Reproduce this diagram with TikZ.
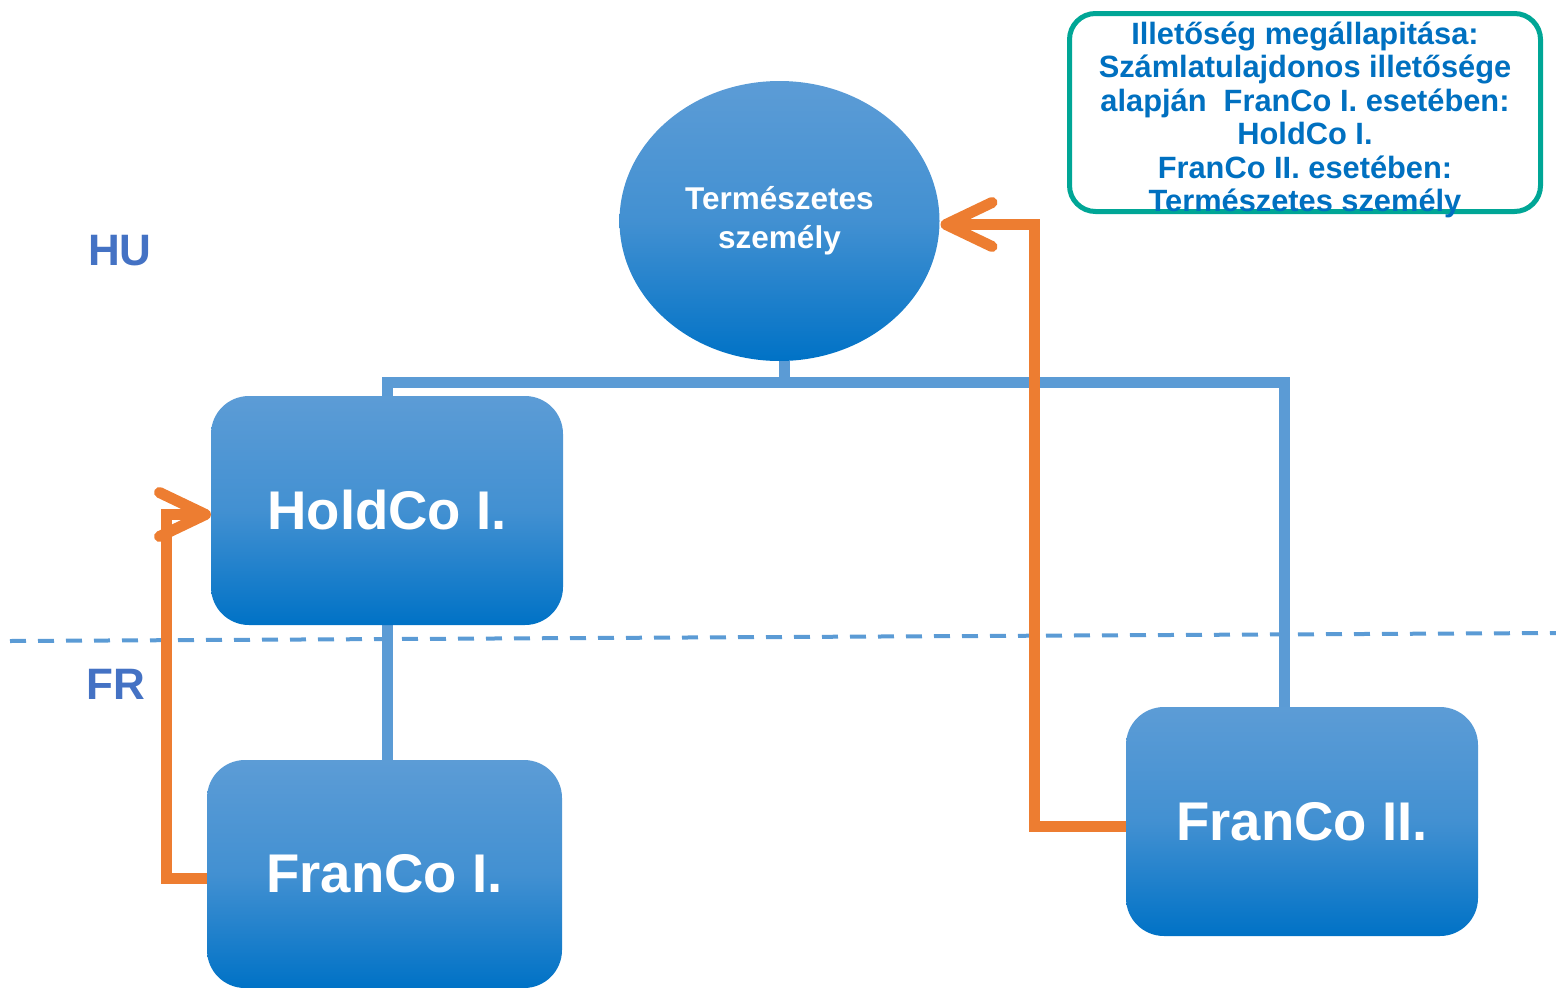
\documentclass[tikz,border=0pt]{standalone}
\usepackage{fontspec}
\setmainfont{Liberation Sans}
\usetikzlibrary{calc,arrows.meta,shapes.geometric}
\definecolor{boxtop}{RGB}{92,156,214}
\definecolor{boxbot}{RGB}{0,114,198}
\definecolor{linkblue}{RGB}{91,155,213}
\definecolor{flow}{RGB}{237,125,49}
\definecolor{noteframe}{RGB}{0,166,150}
\definecolor{notetext}{RGB}{0,112,192}
\definecolor{region}{RGB}{68,114,196}
\pgfdeclarelayer{background}
\pgfsetlayers{background,main}
\begin{document}
\begin{tikzpicture}[x=1pt,y=-1pt,
  fill grad/.style={top color=boxtop, bottom color=boxbot,
    middle color=boxtop!72!boxbot},
  entity/.style={rectangle, rounded corners=38pt, minimum width=352pt,
    minimum height=229pt, inner sep=0pt, outer sep=0pt,
    fill grad, text=white,
    font=\fontsize{54.5}{60}\selectfont\bfseries},
  person/.style={ellipse, minimum width=320pt, minimum height=280pt,
    inner sep=0pt, outer sep=0pt, fill grad,
    text=white, align=center, font=\fontsize{31.5}{39}\selectfont\bfseries},
  tree/.style={draw=linkblue, line width=11pt},
  border/.style={draw=linkblue, line width=4pt, dash pattern=on 16pt off 12pt},
  flowline/.style={draw=flow, line width=11pt,
    -{Straight Barb[length=46pt,width=44pt,round]}},
  regionlabel/.style={text=region, font=\fontsize{44}{48}\selectfont\bfseries},
  notebox/.style={draw=noteframe, line width=5pt, rounded corners=26pt,
    minimum width=471pt, minimum height=198pt, inner sep=0pt},
  notelabel/.style={text=notetext, align=center,
    font=\fontsize{30.8}{33.5}\selectfont\bfseries}]
  \useasboundingbox (0,0) rectangle (1556,988);

  % owners and companies
  \node[person] (ell) at (779.5,221) {Természetes\\személy};
  \node[entity] (hold) at (387,510.5) {HoldCo I.};
  \node[entity, minimum width=355pt, minimum height=228pt] (fran1) at (384.5,874) {FranCo I.};
  \node[entity] (fran2) at (1302,821.5) {FranCo II.};

  % country labels
  \node[regionlabel] (hu) at (120,251) {HU};
  \node[regionlabel] (fr) at (116,684) {FR};

  % note on residence
  \node[notebox] (note) at (1305,112.5) {};
  \node[notelabel] (notetxt) at (1305,120) {Illetőség megállapitása:\\
    Számlatulajdonos illetősége\\
    alapján\ \ FranCo I. esetében:\\
    HoldCo I.\\
    FranCo II. esetében:\\
    Természetes személy};

  \begin{pgfonlayer}{background}
    % border between HU and FR
    \coordinate (bl) at (10,641);
    \coordinate (br) at (1556,633);
    \draw[border] (bl) -- (br);
    % ownership tree
    \coordinate (j) at ($(ell.south)+(5,21)$);
    \draw[tree] ($(ell.south)+(5,0)$) -- (j);
    \draw[tree] (hold.north) |- (j) -| ($(fran2.north)+(-18,0)$);
    \draw[tree] (hold.south) -- (hold.south |- fran1.north);
  \end{pgfonlayer}

  % residence links
  \draw[flowline] ($(fran1.west)+(0,4.5)$) -| ($(hold.west)+(-45,4)$) -- ($(hold.west)+(0,4)$);
  \draw[flowline] ($(fran2.west)+(0,4.5)$) -| ($(ell.east)+(95,3.5)$) -- ($(ell.east)+(1,3.5)$);
\end{tikzpicture}
\end{document}
